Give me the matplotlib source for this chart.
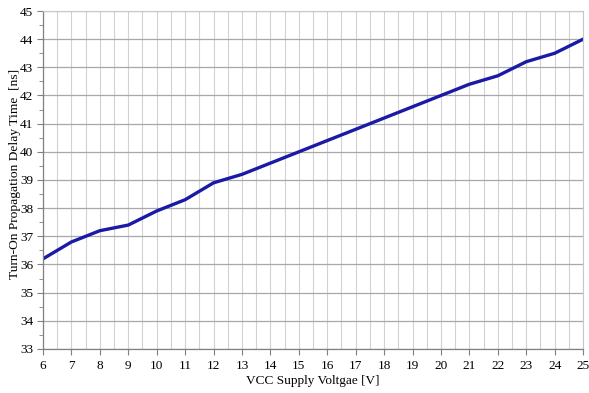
import matplotlib.pyplot as plt
from matplotlib.ticker import MultipleLocator

vcc = [6, 7, 8, 9, 10, 11, 12, 13, 14, 15, 16, 17, 18, 19, 20, 21, 22, 23, 24, 25]
delay = [36.2, 36.8, 37.2, 37.4, 37.9, 38.3, 38.9, 39.2, 39.6, 40.0,
         40.4, 40.8, 41.2, 41.6, 42.0, 42.4, 42.7, 43.2, 43.5, 44.0]

plt.rcParams['font.family'] = ['Liberation Serif', 'DejaVu Serif']

fig = plt.figure(figsize=(5.89, 3.93), dpi=100)
ax = fig.add_axes([0.073, 0.112, 0.917, 0.86])

ax.plot(vcc, delay, color='#1a1aa6', linewidth=2.4, solid_joinstyle='round')

ax.set_xlim(6, 25)
ax.set_ylim(33, 45)
ax.xaxis.set_major_locator(MultipleLocator(1))
ax.xaxis.set_minor_locator(MultipleLocator(0.5))
ax.yaxis.set_major_locator(MultipleLocator(1))
ax.yaxis.set_minor_locator(MultipleLocator(0.5))

ax.grid(which='major', axis='y', color='#a8a8a8', linewidth=0.9)
ax.grid(which='both', axis='x', color='#d2d2d2', linewidth=0.8)
ax.set_axisbelow(True)

for s in ['top', 'right']:
    ax.spines[s].set_color('#c8c8c8')
    ax.spines[s].set_linewidth(0.8)
for s in ['left', 'bottom']:
    ax.spines[s].set_color('#808080')
    ax.spines[s].set_linewidth(0.9)

ax.tick_params(axis='both', which='major', direction='out', length=4,
               color='#808080', labelsize=9.5, pad=3)
ax.tick_params(axis='x', which='major', pad=4)
ax.tick_params(axis='x', which='minor', length=0)
ax.tick_params(axis='y', which='minor', direction='out', length=3, color='#808080')

ax.set_xlabel('VCC Supply Voltgae [V]', fontsize=9.5)
ax.set_ylabel('Turn-On Propagation Delay Time  [ns]', fontsize=9.7)
ax.xaxis.set_label_coords(0.5, -0.076)
ax.yaxis.set_label_coords(-0.041, 0.518)

fig.savefig('out.png', dpi=100)
